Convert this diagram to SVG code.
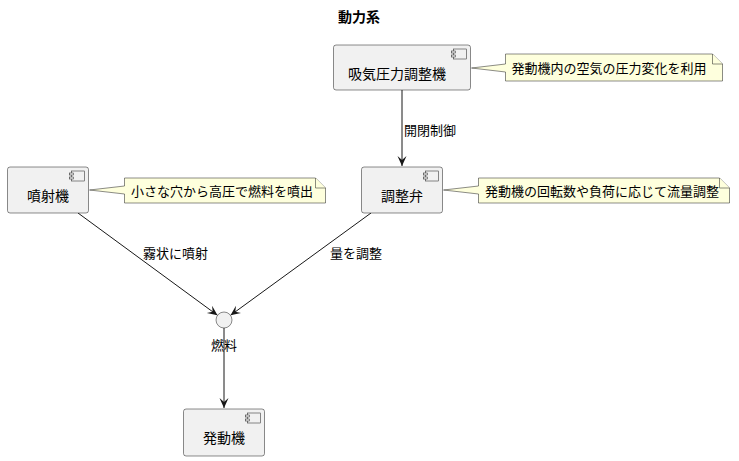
<svg xmlns="http://www.w3.org/2000/svg" width="739" height="461" viewBox="0 0 739 461">
<style>
text{font-family:"Noto Sans CJK JP","Noto Sans CJK SC",sans-serif;fill:#000}
.title{font-size:14px;font-weight:bold}
.comp{font-size:14px}
.note{font-size:13px}
.lbl{font-size:13px}
.box{fill:#F1F1F1;stroke:#181818;stroke-width:0.5}
.nt{fill:#FEFFDD;stroke:#181818;stroke-width:0.5}
.ic{fill:#F1F1F1;stroke:#181818;stroke-width:0.5}
.edge{stroke:#181818;stroke-width:1;fill:none}
</style>
<defs>
<marker id="ah" markerUnits="userSpaceOnUse" markerWidth="11" markerHeight="10" refX="10" refY="4.5" orient="auto">
<path d="M0,0 L10,4.5 L0,9 L4,4.5 Z" fill="#181818"/>
</marker>
</defs>
<text class="title" x="359" y="22" text-anchor="middle">動力系</text>

<g id="connectors">
<line class="edge" x1="402" y1="90" x2="402" y2="166" marker-end="url(#ah)"/>
<text class="lbl" x="404" y="135">開閉制御</text>
<line class="edge" x1="78" y1="213" x2="217.5" y2="315.3" marker-end="url(#ah)"/>
<text class="lbl" x="143" y="258">霧状に噴射</text>
<line class="edge" x1="371" y1="213" x2="230.5" y2="315.3" marker-end="url(#ah)"/>
<text class="lbl" x="330" y="258">量を調整</text>
<line class="edge" x1="224" y1="328" x2="224" y2="408" marker-end="url(#ah)"/>
</g>

<g id="kyuki">
<rect class="box" x="333.5" y="45" width="137" height="45" rx="2.5"/>
<rect class="ic" x="453.5" y="49" width="13" height="10"/>
<rect class="ic" x="451.5" y="51" width="4" height="2"/>
<rect class="ic" x="451.5" y="55" width="4" height="2"/>
<text class="comp" x="397" y="79" text-anchor="middle">吸気圧力調整機</text>
</g>
<g id="note1">
<path class="nt" d="M505.5,54 L712.5,54 L722.5,64 L722.5,81 L505.5,81 L505.5,72 L471.5,68 L505.5,64 Z"/>
<path class="nt" d="M712.5,54 L712.5,64 L722.5,64"/>
<text class="note" x="511.5" y="73">発動機内の空気の圧力変化を利用</text>
</g>

<g id="chosei">
<rect class="box" x="361.5" y="167" width="81" height="46" rx="2.5"/>
<rect class="ic" x="425.5" y="171" width="13" height="10"/>
<rect class="ic" x="423.5" y="173" width="4" height="2"/>
<rect class="ic" x="423.5" y="177" width="4" height="2"/>
<text class="comp" x="402" y="201" text-anchor="middle">調整弁</text>
</g>
<g id="note2">
<path class="nt" d="M478.5,178 L719.5,178 L729.5,188 L729.5,203 L478.5,203 L478.5,194 L443.5,190 L478.5,186 Z"/>
<path class="nt" d="M719.5,178 L719.5,188 L729.5,188"/>
<text class="note" x="485" y="196">発動機の回転数や負荷に応じて流量調整</text>
</g>

<g id="funsha">
<rect class="box" x="7.5" y="167" width="81" height="46" rx="2.5"/>
<rect class="ic" x="71.5" y="171" width="13" height="10"/>
<rect class="ic" x="69.5" y="173" width="4" height="2"/>
<rect class="ic" x="69.5" y="177" width="4" height="2"/>
<text class="comp" x="48" y="201" text-anchor="middle">噴射機</text>
</g>
<g id="note3">
<path class="nt" d="M124.5,178 L315.5,178 L325.5,188 L325.5,203 L124.5,203 L124.5,194 L89.5,190 L124.5,186 Z"/>
<path class="nt" d="M315.5,178 L315.5,188 L325.5,188"/>
<text class="note" x="131" y="196">小さな穴から高圧で燃料を噴出</text>
</g>

<g id="nenryo">
<circle cx="224" cy="320" r="8" fill="#F1F1F1" stroke="#181818" stroke-width="0.5"/>
<text class="lbl" x="224" y="350" text-anchor="middle">燃料</text>
</g>

<g id="hatsudoki">
<rect class="box" x="183.5" y="409" width="81" height="47" rx="2.5"/>
<rect class="ic" x="247.5" y="413" width="13" height="10"/>
<rect class="ic" x="245.5" y="415" width="4" height="2"/>
<rect class="ic" x="245.5" y="419" width="4" height="2"/>
<text class="comp" x="224" y="443" text-anchor="middle">発動機</text>
</g>
</svg>
